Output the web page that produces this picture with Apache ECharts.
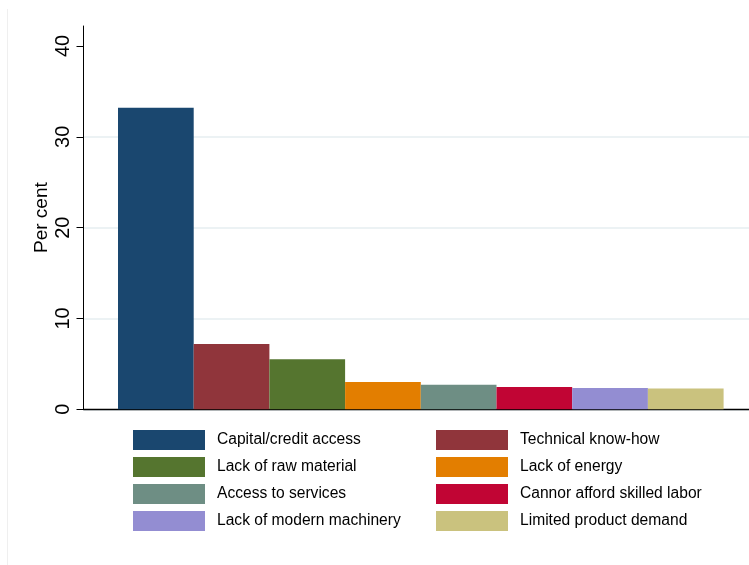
<!DOCTYPE html>
<html>
<head>
<meta charset="utf-8">
<script src="https://cdn.jsdelivr.net/npm/echarts@6/dist/echarts.min.js"></script>
<style>
  html, body { margin: 0; padding: 0; background: #ffffff; }
  #chart { width: 749px; height: 565px; }
</style>
</head>
<body>
<div id="chart"></div>
<script>
// Constraint categories, one bar each
const categories = [
  'Capital/credit access',
  'Technical know-how',
  'Lack of raw material',
  'Lack of energy',
  'Access to services',
  'Cannor afford skilled labor',
  'Lack of modern machinery',
  'Limited product demand'
];
// Share of respondents citing each constraint (per cent)
const values = [33.2, 7.2, 5.5, 3.0, 2.7, 2.45, 2.35, 2.3];
const colors = ['#1a476f', '#90353b', '#55752f', '#e37e00', '#6e8e84', '#c10534', '#938dd2', '#cac27e'];
const yTicks = [0, 10, 20, 30, 40];

// Legend is laid out in two columns, filled row by row
const legendLeft = categories.filter((_, i) => i % 2 === 0);
const legendRight = categories.filter((_, i) => i % 2 === 1);

const FONT = '"Liberation Sans", Arial, Helvetica, sans-serif';

const chart = echarts.init(document.getElementById('chart'), null, { renderer: 'canvas' });

const legendCommon = {
  orient: 'vertical',
  top: 430,
  padding: 0,
  itemWidth: 72,
  itemHeight: 20,
  itemGap: 7,
  icon: 'rect',
  selectedMode: false,
  textStyle: { fontFamily: FONT, fontSize: 15.6, color: '#000', padding: [0, 0, 0, 7] }
};

// Bars sit in one band; an empty leading slot nudges the group right of centre
const barSeries = categories.map((name, i) => ({
  name: name,
  type: 'bar',
  data: [values[i]],
  barWidth: 75.7,
  barGap: '0%',
  itemStyle: { color: colors[i] },
  emphasis: { disabled: true }
}));
const leadSlot = {
  name: '_lead',
  type: 'bar',
  data: [null],
  barWidth: 9.1,
  barGap: '0%',
  silent: true,
  itemStyle: { color: 'rgba(0,0,0,0)' }
};

chart.setOption({
  animation: false,
  backgroundColor: '#ffffff',
  textStyle: { fontFamily: FONT },
  graphic: [{
    type: 'line',
    shape: { x1: 7.5, y1: 9, x2: 7.5, y2: 565 },
    style: { stroke: '#efefef', lineWidth: 1 },
    silent: true
  }],
  grid: { left: 83.5, right: 0, top: 26, bottom: 155.7, containLabel: false },
  legend: [
    Object.assign({}, legendCommon, { left: 133, data: legendLeft }),
    Object.assign({}, legendCommon, { left: 436, data: legendRight })
  ],
  xAxis: {
    type: 'category',
    data: [''],
    axisLine: { show: true, lineStyle: { color: '#000', width: 1.3 } },
    axisTick: { show: false },
    axisLabel: { show: false },
    splitLine: { show: false }
  },
  yAxis: {
    type: 'value',
    min: 0,
    max: 42.2,
    interval: 10,
    name: 'Per cent',
    nameLocation: 'middle',
    nameRotate: 90,
    nameGap: 32,
    nameMoveOverlap: false,
    nameTextStyle: { fontFamily: FONT, fontSize: 19, color: '#000' },
    axisLine: { show: true, lineStyle: { color: '#000', width: 1 } },
    axisTick: { show: true, length: 7, customValues: yTicks, lineStyle: { color: '#000', width: 1 } },
    axisLabel: {
      customValues: yTicks,
      rotate: 90,
      margin: 10,
      fontFamily: FONT,
      fontSize: 20,
      color: '#000'
    },
    splitLine: {
      show: true,
      showMaxLine: false,
      lineStyle: {
        color: ['#e6eef1', '#e6eef1', '#e6eef1', '#e6eef1', 'rgba(0,0,0,0)', 'rgba(0,0,0,0)'],
        width: 1.5
      }
    }
  },
  series: [leadSlot].concat(barSeries)
});
</script>
</body>
</html>
